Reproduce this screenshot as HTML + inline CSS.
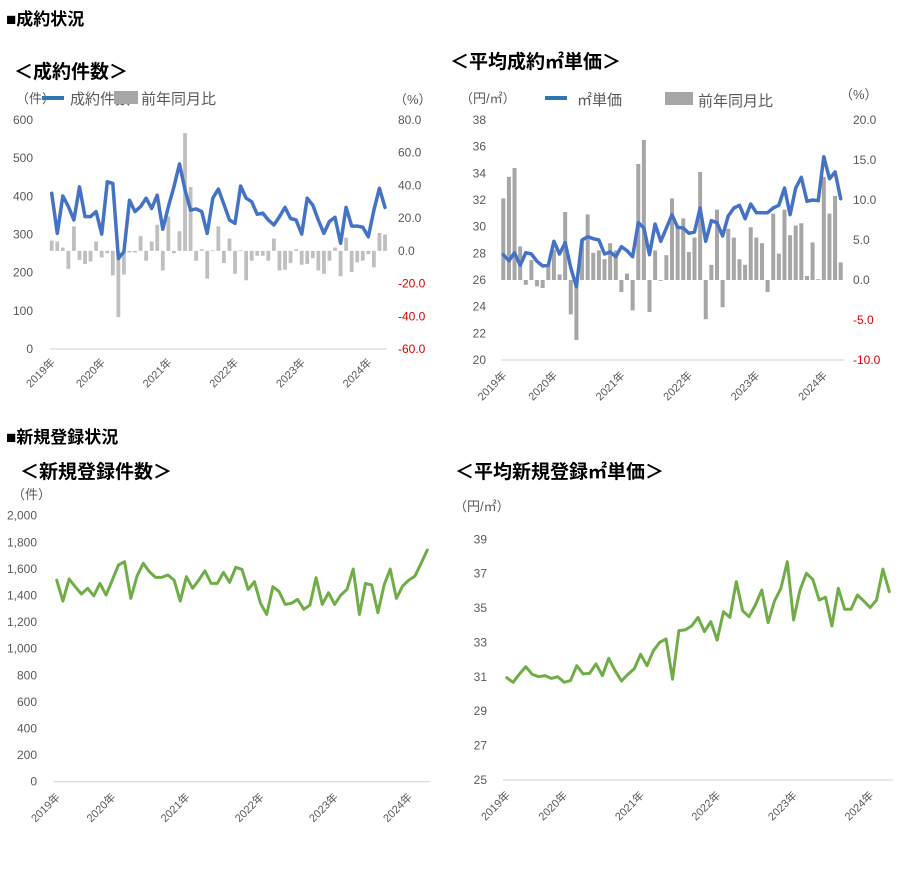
<!DOCTYPE html>
<html><head><meta charset="utf-8"><style>
html,body{margin:0;padding:0;background:#fff;}
svg{display:block;font-family:"Liberation Sans","Noto Sans CJK JP",sans-serif;}
.t{fill:#595959;}
.h{fill:#000;font-weight:bold;}
</style></head><body>
<svg id="s" width="900" height="886" viewBox="0 0 900 886">
<text class="h" x="6" y="25" style="font-size:17px">■成約状況</text>
<text class="h" x="14" y="78" style="font-size:19px">＜成約件数＞</text>
<text class="t" x="16" y="103" style="font-size:13px">（件）</text>
<rect x="42" y="96" width="22" height="4" fill="#2e75b6"/>
<text class="t" x="70" y="104" style="font-size:15px">成約件数</text>
<rect x="114" y="91" width="24" height="13" fill="#a6a6a6"/>
<text class="t" x="141" y="104" style="font-size:15px">前年同月比</text>
<text class="t" x="394" y="104" style="font-size:13px">（%）</text>
<text class="h" x="450" y="68" style="font-size:19px">＜平均成約㎡単価＞</text>
<text class="t" x="460" y="103" style="font-size:13px">（円/㎡）</text>
<rect x="545" y="96" width="22" height="4" fill="#2e75b6"/>
<text class="t" x="577" y="105" style="font-size:15px">㎡単価</text>
<rect x="665" y="92" width="28" height="13" fill="#a6a6a6"/>
<text class="t" x="698" y="106" style="font-size:15px">前年同月比</text>
<text class="t" x="840" y="99" style="font-size:13px">（%）</text>
<text class="h" x="6" y="443" style="font-size:17px">■新規登録状況</text>
<text class="h" x="20" y="478" style="font-size:19px">＜新規登録件数＞</text>
<text class="t" x="12" y="499" style="font-size:13px">（件）</text>
<text class="h" x="455" y="478" style="font-size:19px">＜平均新規登録㎡単価＞</text>
<text class="t" x="454" y="511" style="font-size:13px">（円/㎡）</text>
</svg>
<script>
const yearLabels=["2019年","2020年","2021年","2022年","2023年","2024年"];
const yearIdx=[0,9,21,33,45,57];
const c1Ticks=[0,100,200,300,400,500,600];
const c1RTicks=[-60,-40,-20,0,20,40,60,80];
const c1Count=[408,303,401,373,338,425,347,347,360,301,438,434,237,255,390,360,373,395,368,403,314,373,425,485,417,364,367,360,303,395,419,379,338,329,427,395,386,353,356,338,325,347,371,342,338,301,395,377,338,303,334,345,277,371,322,322,319,294,364,421,371];
const c1Yoy=[6.3,5.7,2,-11,15,-5.5,-8,-6.5,5.7,-4,-1.5,-15,-40.5,-14.5,-1,-1,9,-6,5.7,16,-12,21,-1.5,12,72,39,-6,1,-17,0.3,15,-7.5,7.5,-14,0.3,-18,-6,-3,-3,-6,7.5,-12,-11.5,-7.5,1,-8.5,-8,-4.5,-12,-14,-6,2,-15.5,8,-13,-7,-6,-2,-10,11,10];
const c2Ticks=[20,22,24,26,28,30,32,34,36,38];
const c2RTicks=[-10,-5,0,5,10,15,20];
const c2Price=[27.9,27.45,28.05,27.1,28.05,27.95,27.4,27.05,27.1,28.9,27.95,28.8,26.9,25.5,29.0,29.25,29.1,29.0,27.95,28.1,27.75,28.5,28.2,27.75,30.3,29.9,27.9,30.2,28.9,29.9,30.9,29.95,29.9,29.5,29.6,31.4,28.9,30.45,30.3,29.3,30.8,31.4,31.6,30.6,31.7,31.05,31.05,31.05,31.4,31.6,32.9,30.9,32.9,33.7,31.9,32.0,31.95,35.25,33.6,34.1,32.1];
const c2Yoy=[10.2,12.9,14.0,4.2,-0.6,2.5,-0.8,-1.0,2,3.8,0.7,8.5,-4.3,-7.5,5,8.2,3.4,3.7,2.6,4.6,3.7,-1.5,0.8,-3.8,14.5,17.5,-4.0,3.7,-0.1,3.1,10.2,6.7,7.7,3.5,5.3,13.5,-4.9,1.9,8.8,-3.4,6.4,5.3,2.6,1.9,6.6,5.3,4.6,-1.5,8.3,3.3,8.8,5.6,6.8,7.1,0.5,4.7,0.1,12.9,8.3,10.5,2.2];
const c3Ticks=[0,200,400,600,800,1000,1200,1400,1600,1800,2000];
const c3Count=[1516,1358,1524,1466,1411,1454,1398,1491,1403,1516,1629,1654,1378,1546,1642,1579,1536,1536,1554,1516,1358,1541,1454,1516,1586,1491,1491,1574,1499,1612,1596,1446,1504,1341,1258,1466,1429,1333,1341,1371,1296,1328,1534,1333,1421,1333,1403,1446,1599,1258,1491,1479,1271,1479,1599,1378,1471,1516,1546,1642,1742];
const c4Ticks=[25,27,29,31,33,35,37,39];
const c4Price=[30.95,30.68,31.17,31.59,31.15,31.01,31.07,30.91,31.01,30.68,30.78,31.65,31.17,31.2,31.75,31.07,32.08,31.36,30.76,31.15,31.46,32.31,31.65,32.52,33.01,33.2,30.86,33.69,33.73,33.96,34.46,33.63,34.21,33.14,34.79,34.46,36.54,34.85,34.5,35.18,36.05,34.15,35.41,36.15,37.7,34.31,36.05,37.02,36.67,35.47,35.63,33.96,36.15,34.93,34.93,35.76,35.41,35.03,35.47,37.26,35.96];

const svg=document.getElementById('s');
const NS='http://www.w3.org/2000/svg';
function mk(tag,attrs,parent){const e=document.createElementNS(NS,tag);for(const k in attrs)e.setAttribute(k,attrs[k]);(parent||svg).appendChild(e);return e;}
function lin(d0,d1,r0,r1){return v=>r0+(v-d0)/(d1-d0)*(r1-r0);}

function chart(cfg){
  const g=mk('g',{});
  
  
  const n=cfg.line.length;
  const x=i=>cfg.xa+(cfg.xb-cfg.xa)*i/(n-1);
  const y=lin(cfg.lmin,cfg.lmax,cfg.y0,cfg.y1);
  const base=mk('line',{x1:cfg.ax0,x2:cfg.ax1,y1:cfg.y0,y2:cfg.y0,stroke:'#d9d9d9','stroke-width':1.2},g);
  
  
  cfg.ticks.forEach(t=>{
    const e=mk('text',{x:cfg.lx,y:y(t)+4,'text-anchor':'end',class:'t',style:'font-size:12px'},g);
    e.textContent=cfg.fmt?cfg.fmt(t):t;
    
    
  });
  if(cfg.bars){
    const yr=lin(cfg.rmin,cfg.rmax,cfg.y0,cfg.y1);
    cfg.rticks.forEach(t=>{
      const e=mk('text',{x:cfg.rx,y:yr(t)+4,class:'t',style:'font-size:12px'+(t<0?';fill:#e00000':'')},g);
      e.textContent=t.toFixed(1);
      
      
    });
    const z=yr(0);
    cfg.bars.forEach((v,i)=>{
      const yy=yr(v);
      const r=mk('rect',{x:x(i)-cfg.bw/2,y:Math.min(z,yy),width:cfg.bw,height:Math.max(0.8,Math.abs(yy-z)),fill:cfg.barColor},g);
      
      
    });
  }
  const pts=cfg.line.map((v,i)=>x(i).toFixed(1)+','+y(v).toFixed(1)).join(' ');
  const pl=mk('polyline',{points:pts,fill:'none',stroke:cfg.color,'stroke-width':cfg.lw,'stroke-linejoin':'round','stroke-linecap':'round'},g);
  
  
  yearIdx.forEach((ix,k)=>{
    const xx=x(ix)+4,yy=cfg.y0+cfg.yl;
    const e=mk('text',{x:xx,y:yy,'text-anchor':'end',class:'t',style:'font-size:11px',transform:'rotate(-45 '+xx+' '+yy+')'},g);
    e.textContent=yearLabels[k];
    
    
  });
}
chart({name:'contract-count-chart',line:c1Count,bars:c1Yoy,xa:51.7,xb:385,ax0:50,ax1:387,y0:349,y1:120,lmin:0,lmax:600,ticks:c1Ticks,lx:33,rmin:-60,rmax:80,rticks:c1RTicks,rx:398,bw:3.8,barColor:'#bfbfbf',color:'#4472c4',lw:3.5,yl:14});
chart({name:'contract-price-chart',line:c2Price,bars:c2Yoy,xa:503.3,xb:840.7,ax0:501,ax1:844,y0:360,y1:120,lmin:20,lmax:38,ticks:c2Ticks,lx:486,rmin:-10,rmax:20,rticks:c2RTicks,rx:853,bw:4,barColor:'#a6a6a6',color:'#4472c4',lw:3.5,yl:16});
chart({name:'new-listing-count-chart',line:c3Count,xa:56.7,xb:427.3,ax0:53,ax1:430,y0:781.7,y1:515.7,lmin:0,lmax:2000,ticks:c3Ticks,lx:37,fmt:t=>t.toLocaleString('en-US'),color:'#70ad47',lw:3,yl:16});
chart({name:'new-listing-price-chart',line:c4Price,xa:506.7,xb:889.3,ax0:503,ax1:893,y0:780,y1:539.3,lmin:25,lmax:39,ticks:c4Ticks,lx:487,color:'#70ad47',lw:3,yl:16});
</script>
</body></html>
